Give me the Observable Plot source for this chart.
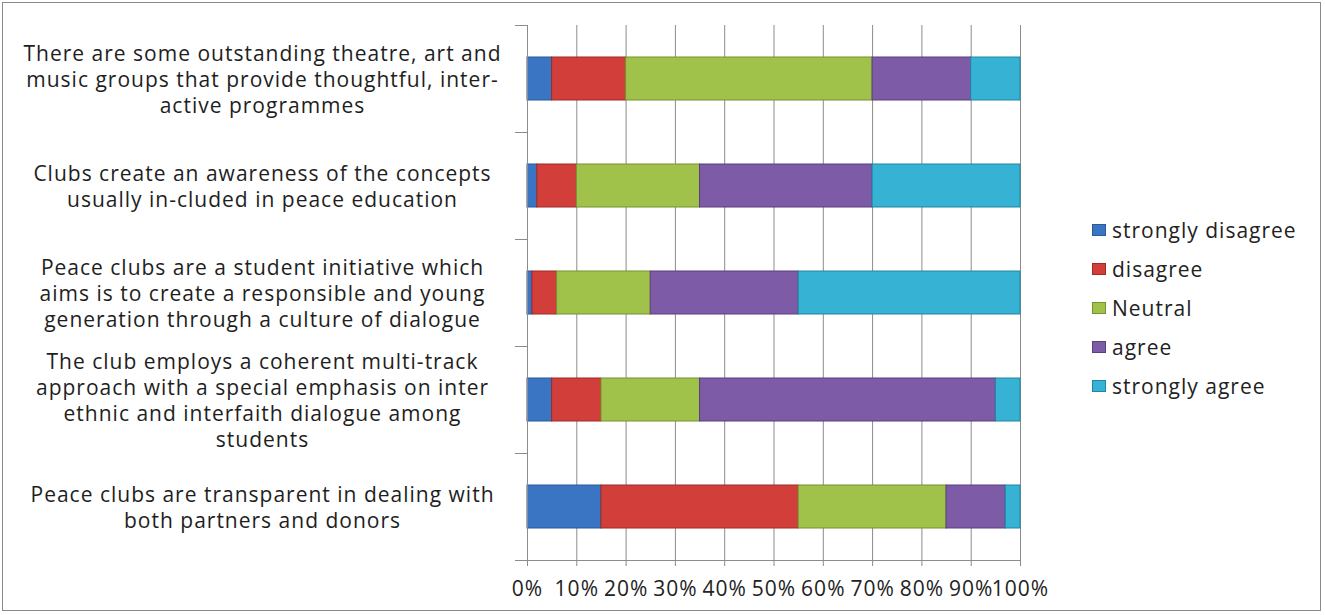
<!DOCTYPE html>
<html>
<head>
<meta charset="utf-8">
<script src="https://cdn.jsdelivr.net/npm/d3@7"></script>
<script src="https://cdn.jsdelivr.net/npm/@observablehq/plot@0.6"></script>
<style>
  html, body { margin: 0; padding: 0; background: #fff; }
  #wrap { position: relative; width: 1325px; height: 615px; overflow: hidden; }
  #frame { position: absolute; left: 2px; top: 2px; width: 1319px; height: 609px; border: 1px solid #8a8a8a; box-sizing: border-box; pointer-events: none; }
  #legend { position: absolute; left: 1092px; top: 211px; font-family: "Open Sans", Lato, sans-serif; font-size: 21px; letter-spacing: 1px; color: #222; }
  #legend .item { display: flex; align-items: center; height: 38.8px; }
  #legend .sw { width: 14px; height: 12px; margin-right: 6px; box-sizing: border-box; }
  svg text { letter-spacing: 1px; }
</style>
</head>
<body>
<div id="wrap"><div id="frame"></div><div id="legend"></div></div>
<script>
const questions = [
  "There are some outstanding theatre, art and\nmusic groups that provide thoughtful, inter-\nactive programmes",
  "Clubs create an awareness of the concepts\nusually in-cluded in peace education",
  "Peace clubs are a student initiative which\naims is to create a responsible and young\ngeneration through a culture of dialogue",
  "The club employs a coherent multi-track\napproach with a special emphasis on inter\nethnic and interfaith dialogue among\nstudents",
  "Peace clubs are transparent in dealing with\nboth partners and donors"
];
const responses = ["strongly disagree", "disagree", "Neutral", "agree", "strongly agree"];
const colors = ["#3a75c4", "#d23f3b", "#a0c24a", "#7d5ba6", "#35b2d4"];
const strokes = ["#2a5a9a", "#9c2b28", "#76922f", "#5a3f7e", "#2385a0"];
// percentages per question, in order of responses
const stronglyDisagree = [5, 2, 1, 5, 15];
const disagree        = [15, 8, 5, 10, 40];
const neutral         = [50, 25, 19, 20, 30];
const agree           = [20, 35, 30, 60, 12];
const stronglyAgree   = [10, 30, 45, 5, 3];
const xTicks = [0, 10, 20, 30, 40, 50, 60, 70, 80, 90, 100];

const series = [stronglyDisagree, disagree, neutral, agree, stronglyAgree];
const data = [];
questions.forEach((q, qi) => {
  responses.forEach((r, ri) => data.push({question: q, response: r, value: series[ri][qi]}));
});

const W = 1325, H = 615, mt = 25, mb = 55, ml = 527, mr = 305;
const band = (H - mt - mb) / questions.length;
const font = "'Open Sans', Lato, sans-serif";

const plot = Plot.plot({
  width: W, height: H,
  marginTop: mt, marginBottom: mb, marginLeft: ml, marginRight: mr,
  style: {fontFamily: font, background: "transparent", overflow: "visible"},
  x: {domain: [0, 100]},
  y: {domain: questions, paddingInner: 0.6, paddingOuter: 0.3},
  color: {domain: responses, range: colors},
  marks: [
    Plot.gridX(xTicks, {stroke: "#8c8c8c", strokeOpacity: 1, strokeWidth: 1}),
    Plot.barX(data, Plot.stackX({
      y: "question", x: "value", fill: "response",
      stroke: d => strokes[responses.indexOf(d.response)],
      strokeWidth: 1,
      order: responses
    })),
    Plot.axisX({ticks: xTicks, tickFormat: d => d + "%", tickSize: 6, tickPadding: 15,
      fontSize: 21, fill: "#222", stroke: "#8c8c8c", label: null}),
    Plot.ruleY([0], {y: () => questions[questions.length - 1], dy: band / 2, x1: -2.4, x2: 100, stroke: "#8c8c8c"}),
    Plot.ruleX([0], {stroke: "#8c8c8c"}),
    Plot.axisY({tickSize: 12, tickFormat: () => "", dy: band / 2, stroke: "#8c8c8c", label: null}),
    Plot.axisY({tickSize: 12, tickFormat: () => "", dy: -band / 2, stroke: "#8c8c8c", label: null}),
    Plot.text(questions, {y: d => d, text: d => d, frameAnchor: "left", dx: -265,
      textAnchor: "middle", lineAnchor: "middle", fontSize: 21, lineHeight: 1.24, fill: "#1e1e1e"})
  ]
});
document.getElementById("wrap").prepend(plot);

const legend = document.getElementById("legend");
responses.forEach((r, i) => {
  const it = document.createElement("div");
  it.className = "item";
  const sw = document.createElement("span");
  sw.className = "sw";
  sw.style.background = colors[i];
  sw.style.border = "1px solid " + strokes[i];
  const t = document.createElement("span");
  t.textContent = r;
  it.append(sw, t);
  legend.append(it);
});
</script>
</body>
</html>
